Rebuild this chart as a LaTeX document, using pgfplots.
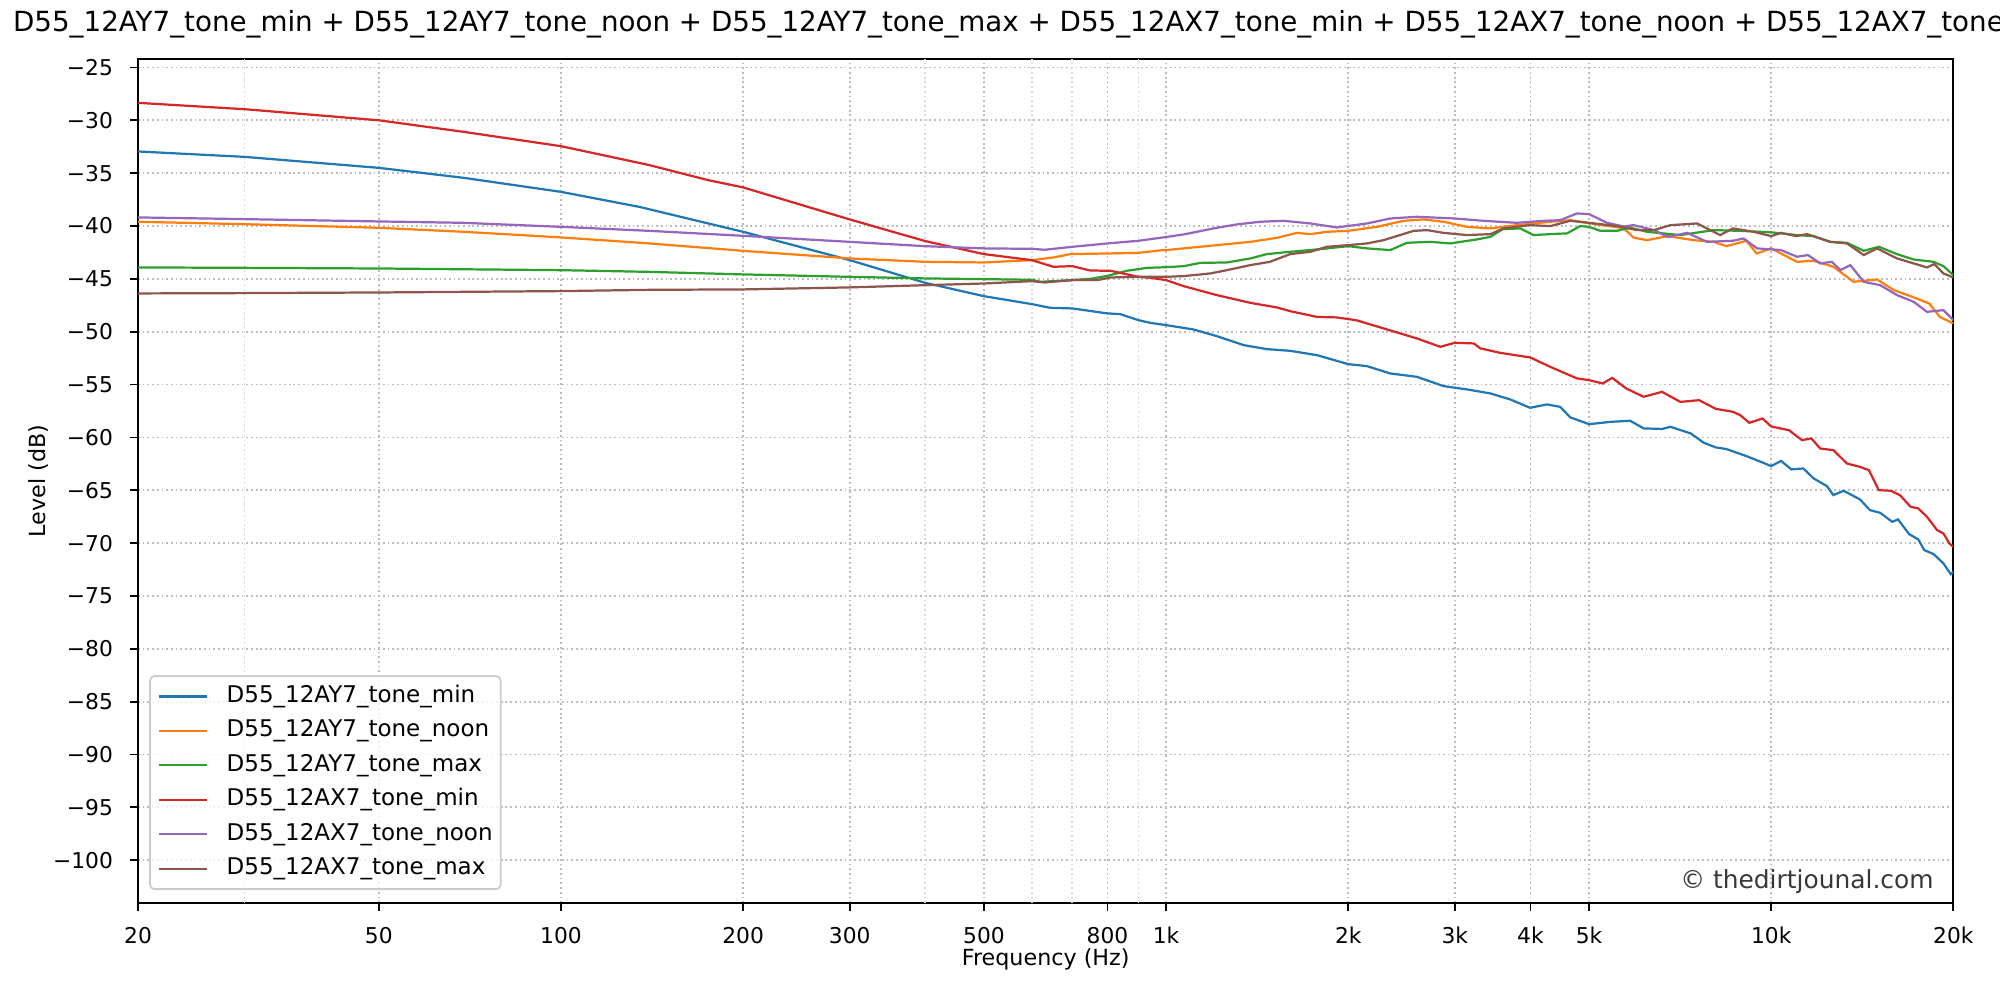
\documentclass[border=0pt]{standalone}
\usepackage{fontspec}
\setmainfont{DejaVu Sans}
\usepackage{pgfplots}
\pgfplotsset{compat=1.18}
\definecolor{c0}{HTML}{1F77B4}
\definecolor{c1}{HTML}{FF7F0E}
\definecolor{c2}{HTML}{2CA02C}
\definecolor{c3}{HTML}{D62728}
\definecolor{c4}{HTML}{9467BD}
\definecolor{c5}{HTML}{8C564B}
\begin{document}
\begin{tikzpicture}
\begin{axis}[
  name=ax, at={(0pt,0pt)}, anchor=south west,
  scale only axis, width=816.9pt, height=379.8pt,
  xmode=log, xmin=20, xmax=20000, ymin=-104.05, ymax=-24.2,
  xtick={20,50,100,200,300,500,800,1000,2000,3000,4000,5000,10000,20000},
  xticklabels={20,50,100,200,300,500,800,1k,2k,3k,4k,5k,10k,20k},
  xminorticks=false, yminorticks=false,
  extra x ticks={30,400,600,700,900},
  extra x tick labels={},
  extra x tick style={grid=major, major tick length=0pt,
    major grid style={black!15, line width=0.8pt, dash pattern=on 0.8pt off 1.32pt}},
  ytick={-100,-95,...,-25},
  yticklabels={−100,−95,−90,−85,−80,−75,−70,−65,−60,−55,−50,−45,−40,−35,−30,−25},
  grid=major,
  major grid style={black!26, line width=0.8pt, dash pattern=on 0.8pt off 1.32pt},
  tick align=outside, tick pos=left,
  major tick length=3.5pt,
  every tick/.style={black, line width=0.8pt},
  axis line style={line width=0.8pt, black},
  ticklabel style={font=\fontsize{9.8}{11.8}\selectfont},
  xticklabel style={anchor=base, inner sep=0pt, yshift=-14.8pt},
  yticklabel style={anchor=east, inner sep=0pt, xshift=-7.6pt},
  title={D55\_12AY7\_tone\_min + D55\_12AY7\_tone\_noon + D55\_12AY7\_tone\_max + D55\_12AX7\_tone\_min + D55\_12AX7\_tone\_noon + D55\_12AX7\_tone\_max},
  title style={font=\fontsize{12.48}{15}\selectfont, at={(0.5,1)}, anchor=base, inner sep=0pt, yshift=6.3pt},
  xlabel={Frequency (Hz)},
  xlabel style={font=\fontsize{10}{12}\selectfont, at={([yshift=-28.1pt]axis description cs:0.5,0)}, anchor=base, inner sep=0pt},
  ylabel={Level (dB)},
  ylabel style={font=\fontsize{10}{12}\selectfont, at={([xshift=-44.9pt]axis description cs:0,0.5)}, anchor=center, rotate=0, inner sep=0pt},
  legend cell align=left,
  legend image code/.code={\draw[#1, line width=1pt] (0pt,0pt) -- (21.5pt,0pt);},
  legend style={at={(0,0)}, anchor=south west, xshift=5.0pt, yshift=5.85pt,
    draw=black!20, line width=0.8pt, rounded corners=2pt, fill=white, fill opacity=0.8, draw opacity=1, text opacity=1,
    font=\fontsize{10.35}{12.4}\selectfont, inner xsep=3.6pt, inner ysep=4.0pt, row sep=5.15pt, column sep=8.4pt,
    nodes={inner sep=0pt, text height=7.75pt, text depth=2.6pt}},
  every axis plot/.append style={line width=1pt},
]
\addplot[c0] table {
20 -32.95
30 -33.46
50 -34.5
69 -35.44
100 -36.77
135 -38.2
163.5 -39.35
200 -40.55
300 -43.23
400 -45.38
500 -46.64
600 -47.39
643 -47.74
700 -47.8
800 -48.27
840 -48.34
900 -48.91
941 -49.16
1000 -49.38
1110 -49.79
1213 -50.42
1343 -51.27
1467 -51.65
1604 -51.81
1776 -52.22
2000 -53.07
2148 -53.26
2346 -53.95
2597 -54.27
2875 -55.15
3141 -55.46
3434 -55.84
3706 -56.41
3996 -57.2
4259 -56.88
4481 -57.11
4655 -58.11
5000 -58.75
5423 -58.53
5848 -58.43
6154 -59.15
6600 -59.2
6812 -59.0
7360 -59.62
7738 -60.51
8100 -60.95
8430 -61.1
9100 -61.77
9710 -62.41
10000 -62.72
10380 -62.22
10800 -63.03
11300 -62.94
11750 -63.88
12360 -64.61
12670 -65.46
13170 -65.05
14020 -65.87
14560 -66.88
15145 -67.14
15850 -67.99
16200 -67.76
16900 -69.15
17500 -69.65
17900 -70.66
18550 -71.04
19260 -71.92
19800 -72.94
20000 -72.72
};
\addlegendentry{D55\_12AY7\_tone\_min}
\addplot[c1] table {
20 -39.6
30 -39.83
50 -40.17
69 -40.55
100 -41.08
140 -41.65
200 -42.35
300 -43.07
400 -43.39
500 -43.45
600 -43.23
651 -42.98
695 -42.66
800 -42.6
900 -42.54
978 -42.31
1000 -42.28
1069 -42.12
1213 -41.81
1378 -41.5
1525 -41.12
1645 -40.65
1732 -40.77
1843 -40.55
2000 -40.46
2230 -40.08
2469 -39.51
2664 -39.38
2875 -39.6
3141 -40.08
3434 -40.23
3800 -39.92
4315 -39.6
4655 -39.45
5152 -39.85
5704 -40.2
5922 -41.1
6234 -41.34
6746 -40.96
7445 -41.34
8035 -41.5
8430 -41.91
9100 -41.4
9460 -42.6
10000 -42.12
11030 -43.39
11750 -43.29
12670 -43.86
13680 -45.28
14960 -45.06
15950 -46.07
17000 -46.64
18250 -47.33
19000 -48.6
20000 -49.22
};
\addlegendentry{D55\_12AY7\_tone\_noon}
\addplot[c2] table {
20 -43.92
30 -43.96
50 -44.02
100 -44.18
140 -44.34
200 -44.58
300 -44.81
400 -44.96
500 -45.03
600 -45.09
620 -45.28
700 -45.12
750 -45.0
800 -44.72
861 -44.24
930 -43.96
1000 -43.9
1069 -43.8
1139 -43.49
1260 -43.45
1378 -43.07
1467 -42.66
1604 -42.44
1776 -42.22
2000 -41.91
2148 -42.12
2346 -42.28
2500 -41.59
2733 -41.5
2949 -41.65
3264 -41.27
3434 -41.03
3600 -40.3
3850 -40.23
4048 -40.86
4315 -40.77
4597 -40.7
4835 -40.01
5000 -40.08
5221 -40.46
5562 -40.46
5848 -40.15
6234 -40.55
7077 -40.86
8035 -40.39
8890 -40.46
10000 -40.6
11030 -40.86
11750 -40.96
12520 -41.5
13340 -41.59
14220 -42.35
15060 -41.97
16140 -42.66
17195 -43.17
18550 -43.39
19260 -43.8
20000 -44.65
};
\addlegendentry{D55\_12AY7\_tone\_max}
\addplot[c3] table {
20 -28.35
30 -28.95
50 -30.0
69 -31.09
100 -32.45
140 -34.24
175 -35.66
200 -36.35
245 -37.87
300 -39.38
400 -41.43
500 -42.66
600 -43.23
651 -43.86
700 -43.8
749 -44.21
810 -44.24
900 -44.81
941 -44.9
1000 -45.12
1069 -45.69
1213 -46.54
1378 -47.27
1525 -47.71
1604 -48.06
1776 -48.6
1915 -48.65
2060 -48.91
2288 -49.69
2597 -50.64
2839 -51.43
3000 -51.05
3223 -51.11
3306 -51.58
3566 -52.0
4000 -52.44
4315 -53.33
4775 -54.42
5000 -54.58
5265 -54.9
5460 -54.37
5759 -55.37
6154 -56.16
6600 -55.69
7077 -56.64
7600 -56.48
8100 -57.3
8646 -57.58
8890 -57.9
9200 -58.62
9670 -58.21
10000 -58.97
10700 -59.32
11240 -60.26
11650 -60.1
12050 -61.05
12670 -61.21
13340 -62.47
14020 -62.79
14500 -63.1
15060 -64.99
15760 -65.05
16320 -65.46
17000 -66.57
17500 -66.72
18090 -67.51
18800 -68.77
19260 -69.09
19700 -70.03
20000 -70.36
};
\addlegendentry{D55\_12AX7\_tone\_min}
\addplot[c4] table {
20 -39.19
30 -39.35
50 -39.57
69 -39.7
100 -40.08
140 -40.46
200 -40.93
300 -41.5
400 -41.91
500 -42.12
600 -42.16
630 -42.25
700 -41.97
800 -41.65
900 -41.4
978 -41.12
1069 -40.8
1213 -40.17
1309 -39.85
1431 -39.6
1564 -39.51
1732 -39.76
1915 -40.14
2148 -39.76
2346 -39.29
2597 -39.13
3000 -39.29
3346 -39.51
3800 -39.7
4205 -39.51
4481 -39.45
4775 -38.81
5000 -38.88
5355 -39.7
5704 -40.05
5922 -39.92
6404 -40.39
6746 -41.03
7265 -40.65
7833 -41.5
8646 -41.4
9000 -41.18
9480 -42.12
10380 -42.28
11030 -42.91
11500 -42.75
12050 -43.54
12600 -43.39
13010 -44.18
13510 -43.7
14220 -45.28
15145 -45.6
16140 -46.54
17195 -47.17
18090 -48.12
19260 -47.96
20000 -48.91
};
\addlegendentry{D55\_12AX7\_tone\_noon}
\addplot[c5] table {
20 -46.38
30 -46.35
50 -46.29
100 -46.16
140 -46.04
200 -46.0
300 -45.81
400 -45.6
500 -45.44
600 -45.22
630 -45.34
700 -45.12
770 -45.12
810 -44.87
900 -44.81
1000 -44.81
1069 -44.74
1183 -44.49
1260 -44.18
1378 -43.7
1484 -43.39
1604 -42.66
1732 -42.44
1843 -41.97
2000 -41.81
2148 -41.65
2288 -41.34
2565 -40.46
2700 -40.39
2875 -40.65
3141 -40.86
3434 -40.77
3611 -40.23
3996 -39.92
4315 -40.01
4655 -39.51
5000 -39.7
5562 -40.01
5999 -40.39
6400 -40.39
6812 -39.92
7541 -39.76
8234 -40.86
8646 -40.23
9354 -40.55
10000 -40.96
10380 -40.65
11000 -40.96
11460 -40.77
12520 -41.5
13340 -41.65
14220 -42.75
14960 -42.12
16140 -43.07
17195 -43.54
18090 -43.92
18600 -43.6
19260 -44.49
20000 -44.87
};
\addlegendentry{D55\_12AX7\_tone\_max}
\node[anchor=base east, inner sep=0pt, text=black!78, font=\fontsize{11.2}{13}\selectfont] at ([xshift=-8.7pt, yshift=6.5pt]rel axis cs:1,0) {© thedirtjounal.com};
\end{axis}
\pgfresetboundingbox
\useasboundingbox ([xshift=-62.1pt, yshift=-43.65pt]ax.south west) rectangle ([xshift=21.0pt, yshift=26.55pt]ax.north east);
\end{tikzpicture}
\end{document}
